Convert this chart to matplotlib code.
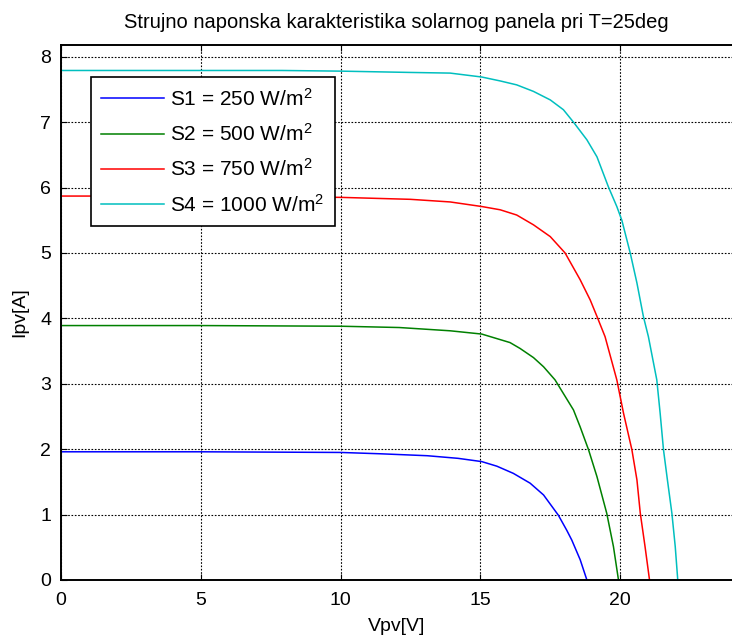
import matplotlib
matplotlib.use('Agg')
import matplotlib.pyplot as plt

plt.rcParams['font.family'] = ['Liberation Sans', 'DejaVu Sans']
plt.rcParams['mathtext.fontset'] = 'custom'
plt.rcParams['mathtext.rm'] = 'Liberation Sans'
plt.rcParams['mathtext.it'] = 'Liberation Sans:italic'

# I-V curves (voltage in V, current in A)
v_s1 = [0, 5, 10, 11.4, 13.1, 14.2, 15.05, 15.59, 16.18, 16.78, 17.26, 17.79, 18.09,
        18.27, 18.57, 18.81]
i_s1 = [1.96, 1.96, 1.95, 1.93, 1.90, 1.86, 1.81, 1.74, 1.63, 1.48, 1.30, 0.99, 0.76,
        0.61, 0.31, 0.0]

v_s2 = [0, 5, 10, 12.1, 13.92, 15.05, 16.06, 16.42, 16.9, 17.26, 17.67, 18.33, 18.57,
        18.87, 19.17, 19.52, 19.76, 19.94]
i_s2 = [3.89, 3.89, 3.88, 3.86, 3.81, 3.76, 3.63, 3.54, 3.40, 3.26, 3.06, 2.60, 2.34,
        1.99, 1.58, 1.02, 0.51, 0.0]

v_s3 = [0, 5, 10, 12.5, 13.92, 15.05, 15.71, 16.3, 16.9, 17.5, 18.03, 18.57, 18.93,
        19.17, 19.46, 19.88, 20.12, 20.42, 20.6, 20.72, 20.89, 21.05]
i_s3 = [5.87, 5.87, 5.85, 5.82, 5.78, 5.71, 5.66, 5.58, 5.43, 5.25, 5.00, 4.59, 4.28,
        4.03, 3.72, 3.06, 2.55, 1.99, 1.53, 1.02, 0.51, 0.0]

v_s4 = [0, 5, 7.9, 10, 12.5, 13.92, 15.05, 15.71, 16.3, 16.9, 17.5, 17.97, 18.33, 18.81,
        19.17, 19.58, 19.88, 20.06, 20.36, 20.6, 20.83, 21.01, 21.31, 21.43, 21.55,
        21.69, 21.85, 21.97, 22.06]
i_s4 = [7.79, 7.79, 7.79, 7.78, 7.76, 7.75, 7.69, 7.63, 7.57, 7.47, 7.34, 7.19, 7.00, 6.73,
        6.47, 6.01, 5.71, 5.50, 5.00, 4.54, 4.03, 3.72, 3.06, 2.55, 1.99,
        1.53, 1.02, 0.51, 0.0]

labels = [r'S1 = 250 W/m$^2$', r'S2 = 500 W/m$^2$',
          r'S3 = 750 W/m$^2$', r'S4 = 1000 W/m$^2$']
colors = ['#0000ff', '#008000', '#ff0000', '#00bfbf']

fig = plt.figure(figsize=(7.32, 6.37), dpi=100)
ax = fig.add_axes([0.0833, 0.0895, 0.9167, 0.8399])

for v, i, lab, c in zip([v_s1, v_s2, v_s3, v_s4], [i_s1, i_s2, i_s3, i_s4], labels, colors):
    ax.plot(v, i, color=c, linewidth=1.1, label=lab)

ax.set_xlim(0, 24)
ax.set_ylim(0, 8.18)
ax.set_xticks([0, 5, 10, 15, 20])
ax.set_yticks(range(0, 9))

ax.grid(True, color='black', linestyle=(0, (1.5, 1.5)), linewidth=0.8)
ax.tick_params(direction='in', length=4, labelsize=14, top=True, right=False,
               colors='black')
ax.tick_params(axis='x', pad=9)
ax.tick_params(axis='y', pad=7)
for side in ['left', 'bottom', 'top']:
    ax.spines[side].set_linewidth(1.4)
ax.spines['right'].set_visible(False)

ax.set_xlabel('Vpv[V]', fontsize=14, labelpad=6)
ax.set_ylabel('Ipv[A]', fontsize=14, labelpad=9)
ax.set_title('Strujno naponska karakteristika solarnog panela pri T=25deg',
             fontsize=14.5, pad=12)

leg = ax.legend(loc='upper left', bbox_to_anchor=(0.0447, 0.940), borderaxespad=0,
                fontsize=15, fancybox=False, framealpha=1, edgecolor='black',
                handlelength=3.0, labelspacing=0.65, borderpad=0.5,
                handletextpad=0.3)
leg.get_frame().set_linewidth(1.2)

fig.savefig('out.png', dpi=100)
